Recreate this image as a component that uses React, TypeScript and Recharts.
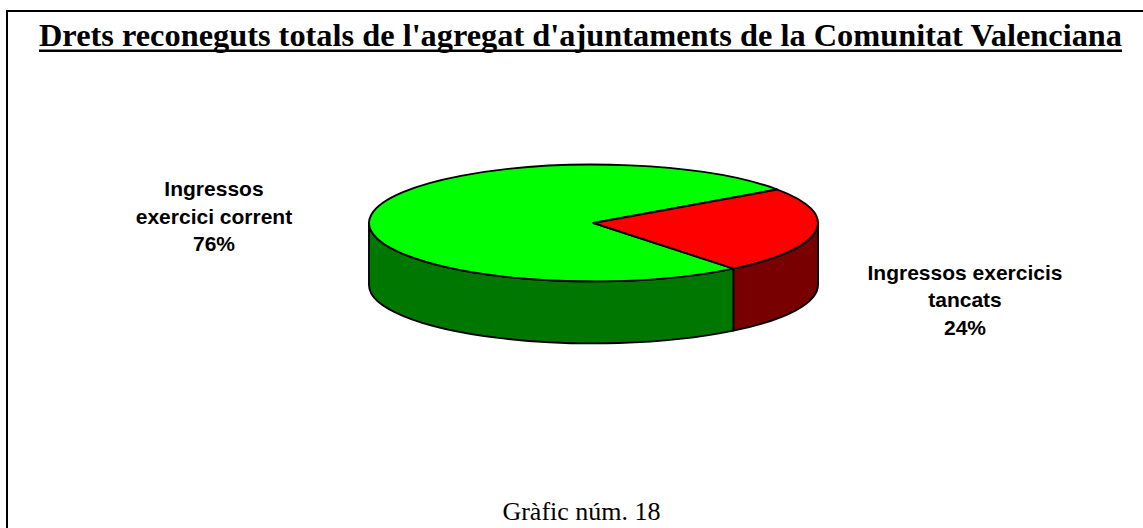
import { Cell, Pie, PieChart } from "recharts";

const CATEGORIES = ["Ingressos exercici corrent", "Ingressos exercicis tancats"];
const VALUES = [76, 24];
const LABEL_LINES = [
  ["Ingressos", "exercici corrent"],
  ["Ingressos exercicis", "tancats"],
];

const TOP_COLORS = ["#00ff00", "#ff0000"];
const SIDE_COLORS = ["#007800", "#780000"];

const TITLE = "Drets reconeguts totals de l'agregat d'ajuntaments de la Comunitat Valenciana";
const FOOTER = "Gràfic núm. 18";

const W = 1143;
const H = 528;
const TILT = 0.26; // vertical squash of the pie
const DEPTH = 62; // thickness of the 3d wall
const RAD = Math.PI / 180;

const data = CATEGORIES.map((name, i) => ({ name, value: VALUES[i] }));

function pt(cx: number, cy: number, rx: number, ry: number, a: number, dy = 0) {
  return `${cx + rx * Math.cos(a * RAD)},${cy - ry * Math.sin(a * RAD) + dy}`;
}

function TopShape(props: any) {
  const { cx, cy, outerRadius, startAngle, endAngle, fill } = props;
  const rx = outerRadius;
  const ry = outerRadius * TILT;
  const s = Math.min(startAngle, endAngle);
  const e = Math.max(startAngle, endAngle);
  const large = e - s > 180 ? 1 : 0;
  const d = `M${cx},${cy} L${pt(cx, cy, rx, ry, s)} A${rx},${ry} 0 ${large} 0 ${pt(cx, cy, rx, ry, e)} Z`;
  return <path d={d} fill={fill} stroke="#000" strokeWidth={1.9} strokeLinejoin="round" />;
}

function SideShape(props: any) {
  const { cx, cy, outerRadius, startAngle, endAngle, fill } = props;
  const rx = outerRadius;
  const ry = outerRadius * TILT;
  const s = Math.min(startAngle, endAngle);
  const e = Math.max(startAngle, endAngle);
  const paths: string[] = [];
  // only the front half (below the centre) of the wall is visible
  for (let k = -1; k <= 2; k++) {
    const lo = Math.max(s, 180 + 360 * k);
    const hi = Math.min(e, 360 + 360 * k);
    if (hi <= lo) continue;
    const large = hi - lo > 180 ? 1 : 0;
    paths.push(
      `M${pt(cx, cy, rx, ry, lo)} A${rx},${ry} 0 ${large} 0 ${pt(cx, cy, rx, ry, hi)}` +
        ` L${pt(cx, cy, rx, ry, hi, DEPTH)} A${rx},${ry} 0 ${large} 1 ${pt(cx, cy, rx, ry, lo, DEPTH)} Z`
    );
  }
  if (!paths.length) return <g />;
  return (
    <g>
      {paths.map((d, i) => (
        <path key={i} d={d} fill={fill} stroke="#000" strokeWidth={1.9} strokeLinejoin="round" />
      ))}
    </g>
  );
}

function renderLabel(props: any) {
  const { cx, cy, midAngle, outerRadius, percent, index } = props;
  const rx = outerRadius;
  const ry = outerRadius * TILT;
  const ux = Math.cos(midAngle * RAD);
  const uy = -Math.sin(midAngle * RAD);
  const lx = cx + ux * rx * 1.69 - 4;
  const ly = cy + uy * ry * 1.27 + (uy > 0 ? DEPTH : 0) + 11.5;
  const lines = [...LABEL_LINES[index], `${Math.round(percent * 100)}%`];
  return (
    <text
      key={`lbl-${index}`}
      x={lx}
      y={ly - 27.5}
      textAnchor="middle"
      fontFamily="'Liberation Sans', Arial, sans-serif"
      fontWeight="bold"
      fontSize={21}
      fill="#000"
    >
      {lines.map((t, i) => (
        <tspan key={i} x={lx} dy={i === 0 ? 0 : 27.5}>
          {t}
        </tspan>
      ))}
    </text>
  );
}

export default function App() {
  return (
    <div style={{ position: "absolute", left: 0, top: 0, width: W, height: H, background: "#fff" }}>
      <div style={{ position: "absolute", left: 0, top: 0 }}>
        <PieChart width={W} height={H} margin={{ top: 0, right: 0, bottom: 0, left: 0 }}>
          <Pie
            data={data}
            dataKey="value"
            nameKey="name"
            cx={593.5}
            cy={223}
            outerRadius={224.5}
            startAngle={35}
            endAngle={395}
            shape={SideShape}
            stroke="none"
            isAnimationActive={false}
          >
            {data.map((d, i) => (
              <Cell key={d.name} fill={SIDE_COLORS[i]} />
            ))}
          </Pie>
          <Pie
            data={data}
            dataKey="value"
            nameKey="name"
            cx={593.5}
            cy={223}
            outerRadius={224.5}
            startAngle={35}
            endAngle={395}
            shape={TopShape}
            label={renderLabel}
            labelLine={false}
            stroke="none"
            isAnimationActive={false}
          >
            {data.map((d, i) => (
              <Cell key={d.name} fill={TOP_COLORS[i]} />
            ))}
          </Pie>
        </PieChart>
      </div>
      <svg
        width={W}
        height={H}
        style={{ position: "absolute", left: 0, top: 0, pointerEvents: "none" }}
      >
        <rect x={7} y={11} width={W + 20} height={H + 20} fill="none" stroke="#000" strokeWidth={2} />
        <text
          x={39}
          y={46}
          textLength={1083}
          lengthAdjust="spacingAndGlyphs"
          fontFamily="'Liberation Serif', 'Times New Roman', serif"
          fontWeight="bold"
          fontSize={31}
          fill="#000"
        >
          {TITLE}
        </text>
        <rect x={39} y={49.5} width={1083} height={2.5} fill="#000" />
        <text
          x={581.5}
          y={520}
          textAnchor="middle"
          fontFamily="'Liberation Serif', 'Times New Roman', serif"
          fontSize={26}
          fill="#000"
        >
          {FOOTER}
        </text>
      </svg>
    </div>
  );
}
